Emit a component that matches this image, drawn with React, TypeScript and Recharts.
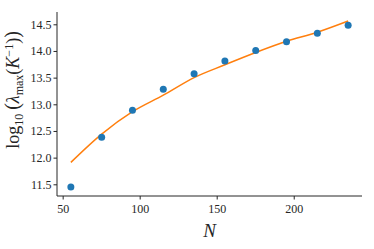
import { ComposedChart, Line, Scatter, XAxis, YAxis } from "recharts";

const sizes = [55, 75, 95, 115, 135, 155, 175, 195, 215, 235];
const measured = [11.46, 12.39, 12.9, 13.29, 13.58, 13.82, 14.02, 14.18, 14.34, 14.49];
const fitted = [11.92, 12.45, 12.87, 13.18, 13.51, 13.75, 13.98, 14.19, 14.36, 14.57];
const xTicks = [50, 100, 150, 200];
const yTicks = [11.5, 12.0, 12.5, 13.0, 13.5, 14.0, 14.5];

const data = sizes.map((n, i) => ({ N: n, obs: measured[i], fit: fitted[i] }));

const FONT = "Liberation Serif, DejaVu Serif, serif";
const INK = "#262626";

function YLabel() {
  return (
    <text
      x={0}
      y={0}
      transform="translate(19, 90) rotate(-90)"
      textAnchor="middle"
      fontFamily={FONT}
      fontSize={18}
      fill={INK}
    >
      <tspan>log</tspan>
      <tspan fontSize={12} dy={4}>10</tspan>
      <tspan dy={-4} fontSize={20} dx={4}>(</tspan>
      <tspan fontStyle="italic">λ</tspan>
      <tspan fontSize={12} dy={4}>max</tspan>
      <tspan dy={-4}>(</tspan>
      <tspan fontStyle="italic">K</tspan>
      <tspan fontSize={12} dy={-6}>−1</tspan>
      <tspan dy={6}>)</tspan>
      <tspan fontSize={20}>)</tspan>
    </text>
  );
}

function Tick({ x, y, payload, axis }: any) {
  const isY = axis === "y";
  return (
    <text
      x={x}
      y={y}
      dy={isY ? 4 : 11}
      textAnchor={isY ? "end" : "middle"}
      fontFamily={FONT}
      fontSize={12}
      fill={INK}
    >
      {isY ? Number(payload.value).toFixed(1) : payload.value}
    </text>
  );
}

export default function App() {
  return (
    <div style={{ position: "absolute", left: 0, top: 0, background: "#fff" }}>
      <ComposedChart
        width={374}
        height={249}
        data={data}
        margin={{ top: 12, right: 12, left: 0, bottom: 0 }}
      >
        <XAxis
          dataKey="N"
          type="number"
          domain={[46, 244]}
          ticks={xTicks}
          allowDataOverflow
          height={53}
          tickSize={3.5}
          tickMargin={2}
          stroke={INK}
          tick={<Tick axis="x" />}
          label={{
            value: "N",
            position: "insideBottom",
            offset: 12,
            fill: INK,
            fontSize: 19,
            fontStyle: "italic",
            fontFamily: FONT,
          }}
        />
        <XAxis xAxisId="top" orientation="top" type="number" domain={[46, 244]} height={0} tick={false} tickLine={false} stroke={INK} />
        <YAxis
          type="number"
          domain={[11.29, 14.74]}
          ticks={yTicks}
          allowDataOverflow
          width={57}
          tickSize={3.5}
          tickMargin={2}
          stroke={INK}
          tick={<Tick axis="y" />}
          label={<YLabel />}
        />
        <YAxis yAxisId="right" orientation="right" width={0} tick={false} tickLine={false} stroke={INK} domain={[11.29, 14.74]} />
        <Line
          dataKey="fit"
          type="monotone"
          stroke="#ff7f0e"
          strokeWidth={1.5}
          dot={false}
          isAnimationActive={false}
        />
        <Scatter dataKey="obs" fill="#1f77b4" isAnimationActive={false} shape={(p: any) => <circle cx={p.cx} cy={p.cy} r={3.5} fill="#1f77b4" />} />
      </ComposedChart>
    </div>
  );
}
